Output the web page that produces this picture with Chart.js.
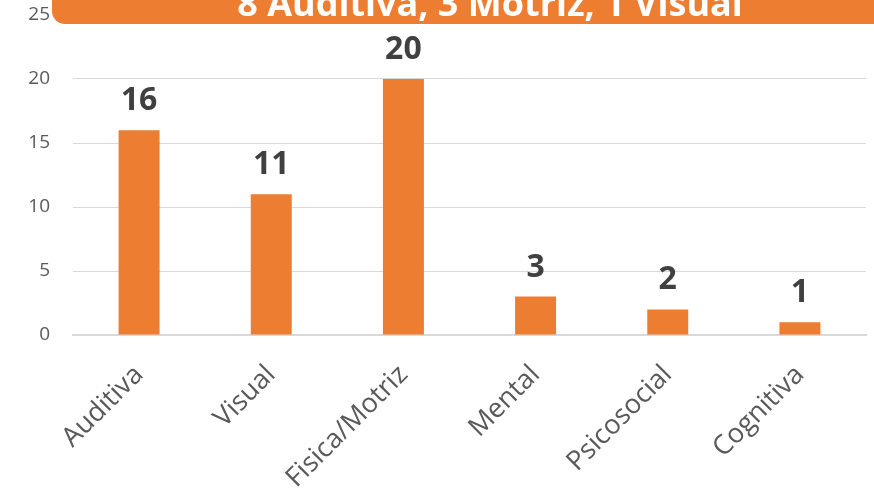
<!DOCTYPE html>
<html>
<head>
<meta charset="utf-8">
<script src="https://cdn.jsdelivr.net/npm/chart.js@4"></script>
<style>
  html, body { margin: 0; padding: 0; background: #fff; }
  #wrap { width: 874px; height: 499px; position: relative; }
</style>
</head>
<body>
<div id="wrap"><canvas id="myChart" width="874" height="499"></canvas></div>
<script>
const categories = ['Auditiva', 'Visual', 'Fisica/Motriz', 'Mental', 'Psicosocial', 'Cognitiva'];
const counts = [16, 11, 20, 3, 2, 1];
const yTicks = [0, 5, 10, 15, 20, 25];
const titleText = '8 Auditiva, 3 Motriz, 1 Visual';

const orange = '#ed7d31';
const fontName = "'Open Sans', 'Noto Sans', sans-serif";

// orange banner with the white title, cut off at the top like the original
const bannerPlugin = {
  id: 'banner',
  afterDraw(chart) {
    const ctx = chart.ctx;
    ctx.save();
    ctx.fillStyle = orange;
    ctx.beginPath();
    ctx.roundRect(52, -20, 874 - 52 + 20, 44, 13);
    ctx.fill();
    ctx.fillStyle = '#ffffff';
    ctx.font = 'bold 36px ' + fontName;
    ctx.textAlign = 'center';
    ctx.textBaseline = 'alphabetic';
    ctx.fillText(titleText, 490, 16);
    ctx.restore();
  }
};

// big bold value over each bar
const valuePlugin = {
  id: 'values',
  afterDatasetsDraw(chart) {
    const ctx = chart.ctx;
    const meta = chart.getDatasetMeta(0);
    ctx.save();
    ctx.fillStyle = '#404040';
    ctx.font = 'bold 32px ' + fontName;
    ctx.textAlign = 'center';
    ctx.textBaseline = 'alphabetic';
    meta.data.forEach(function (bar, i) {
      ctx.fillText(String(counts[i]), bar.x, bar.y - 20);
    });
    ctx.restore();
  }
};

const data = {
  labels: categories,
  datasets: [{
    label: 'Discapacidad',
    data: counts,
    backgroundColor: orange,
    borderWidth: 0,
    categoryPercentage: 1.0,
    barPercentage: 0.31
  }]
};

const config = {
  type: 'bar',
  data: data,
  options: {
    responsive: false,
    animation: false,
    layout: { padding: { top: 15, right: 8, left: 0, bottom: 0 } },
    plugins: {
      legend: { display: false },
      tooltip: { enabled: false }
    },
    scales: {
      y: {
        min: 0,
        max: 25,
        afterBuildTicks(scale) {
          scale.ticks = yTicks.map(v => ({ value: v }));
        },
        afterFit(scale) { scale.width = 73; },
        border: { display: false },
        // invisible tick marks give the gap between labels and plot
        grid: { color: '#d9d9d9', lineWidth: 1, drawTicks: true, tickLength: 23, tickColor: 'rgba(0,0,0,0)' },
        ticks: {
          color: '#595959',
          padding: 0,
          font: { family: fontName, size: 19 }
        }
      },
      x: {
        afterFit(scale) { scale.height = 164; },
        border: { display: true, color: '#d9d9d9', width: 2 },
        grid: { display: false },
        ticks: {
          color: '#595959',
          minRotation: 45,
          maxRotation: 45,
          padding: 16,
          font: { family: fontName, size: 27 }
        }
      }
    }
  },
  plugins: [valuePlugin, bannerPlugin]
};

const myChart = new Chart(document.getElementById('myChart'), config);
</script>
</body>
</html>
